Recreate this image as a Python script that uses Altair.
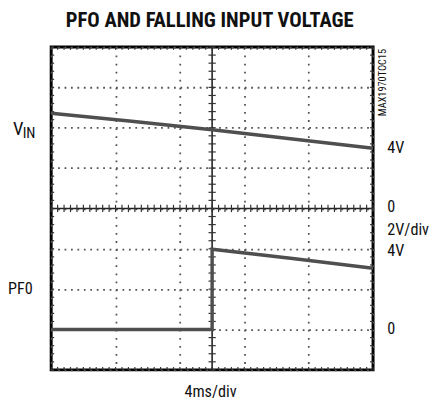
import altair as alt
import pandas as pd

# ---- data (time in ms, level in scope divisions; 0 = bottom, 8 = top) ----
VIN_T = [0, 10, 20, 30, 40]
VIN_LEVEL = [6.36, 6.16, 5.95, 5.72, 5.49]

PFO_T = [0, 20, 20, 30, 40]
PFO_LEVEL = [1.0, 1.0, 2.99, 2.76, 2.52]

GRID_T = [0, 4, 8, 12, 16, 20, 24, 28, 32, 36, 40]
GRID_DIV = [0, 1, 2, 3, 4, 5, 6, 7, 8]

RIGHT_LABELS = ["4V", "0", "2V/div", "4V", "0"]
RIGHT_LEVELS = [5.49, 4.04, 3.47, 2.95, 1.02]

TITLE = "PFO AND FALLING INPUT VOLTAGE"
XLABEL = "4ms/div"
CODE = "MAX1970TOC15"

FONT = "Roboto Condensed, Roboto, sans-serif"
W, H = 328, 329

xs = alt.Scale(domain=[0, 40], nice=False, zero=False)
ys = alt.Scale(domain=[0, 8], nice=False, zero=False)

# minor tick positions along the centre cross and frame (5 per division)
minor_t = [i * 0.8 for i in range(51)]
minor_d = [i * 0.2 for i in range(41)]

vin = pd.DataFrame({"t": VIN_T, "v": VIN_LEVEL, "i": range(len(VIN_T))})
pfo = pd.DataFrame({"t": PFO_T, "v": PFO_LEVEL, "i": range(len(PFO_T))})

grid = alt.Chart(pd.DataFrame({"t": [20], "v": [4]})).mark_point(opacity=0).encode(
    x=alt.X("t:Q", scale=xs, axis=alt.Axis(values=GRID_T, grid=True, gridDash=[1.8, 6.42],
                                           gridColor="#555", gridWidth=1.8, labels=False,
                                           ticks=False, domain=False, title=None)),
    y=alt.Y("v:Q", scale=ys, axis=alt.Axis(values=GRID_DIV, grid=True, gridDash=[1.8, 4.76],
                                           gridColor="#555", gridWidth=1.8, labels=False,
                                           ticks=False, domain=False, title=None)),
)

centre_v = alt.Chart(pd.DataFrame({"t": [20]})).mark_rule(color="#222", strokeWidth=1.6).encode(
    x=alt.X("t:Q", scale=xs))
centre_h = alt.Chart(pd.DataFrame({"v": [4]})).mark_rule(color="#222", strokeWidth=1.6).encode(
    y=alt.Y("v:Q", scale=ys))

# ticks crossing the centre lines and inner frame ticks
tx = pd.DataFrame({"t": minor_t * 3,
                   "a": [3.91] * 51 + [0] * 51 + [8] * 51,
                   "b": [4.09] * 51 + [0.07] * 51 + [7.93] * 51})
ty = pd.DataFrame({"v": minor_d * 3,
                   "a": [19.55] * 41 + [0] * 41 + [40] * 41,
                   "b": [20.45] * 41 + [0.37] * 41 + [39.63] * 41})
ticks_x = alt.Chart(tx).mark_rule(color="#333", strokeWidth=1.2).encode(
    x=alt.X("t:Q", scale=xs), y=alt.Y("a:Q", scale=ys), y2="b:Q")
ticks_y = alt.Chart(ty).mark_rule(color="#333", strokeWidth=1.2).encode(
    y=alt.Y("v:Q", scale=ys), x=alt.X("a:Q", scale=xs), x2="b:Q")

vin_line = alt.Chart(vin).mark_line(color="#4f4f4f", strokeWidth=3.5).encode(
    x=alt.X("t:Q", scale=xs), y=alt.Y("v:Q", scale=ys), order="i:Q")
pfo_line = alt.Chart(pfo).mark_line(color="#4f4f4f", strokeWidth=3.5).encode(
    x=alt.X("t:Q", scale=xs), y=alt.Y("v:Q", scale=ys), order="i:Q")

right = alt.Chart(pd.DataFrame({"txt": RIGHT_LABELS, "v": RIGHT_LEVELS})).mark_text(
    align="left", baseline="middle", font=FONT, fontSize=16.5, color="#111").encode(
    x=alt.datum(41.77, scale=xs), y=alt.Y("v:Q", scale=ys), text="txt:N")


def label(txt, t, v, size, align="left", weight="normal", angle=0):
    kw = dict(align=align, baseline="middle", font=FONT, fontSize=size,
              color="#111", fontWeight=weight)
    if angle:
        kw["angle"] = angle
    return alt.Chart(pd.DataFrame({"txt": [txt]})).mark_text(**kw).encode(
        x=alt.datum(t, scale=xs), y=alt.datum(v, scale=ys), text="txt:N")


labels = [
    label(TITLE, 19.7, 8.64, 21, align="center", weight="bold"),
    label(XLABEL, 19.8, -0.55, 16.5, align="center"),
    label("V", -4.76, 5.97, 19),
    label("IN", -3.54, 5.86, 15),
    label("PF0", -5.37, 1.99, 16.5),
    label(CODE, 41.22, 7.12, 10.5, align="center", angle=270),
]

chart = alt.layer(grid, centre_v, centre_h, ticks_x, ticks_y, vin_line, pfo_line, right,
                  *labels).properties(
    width=W, height=H,
    autosize=alt.AutoSizeParams(type="none"),
    padding={"left": 44, "top": 36, "right": 57, "bottom": 31},
).configure_view(stroke="black", strokeWidth=3)

chart.save("out.html", embed_options={"renderer": "svg", "actions": False})
